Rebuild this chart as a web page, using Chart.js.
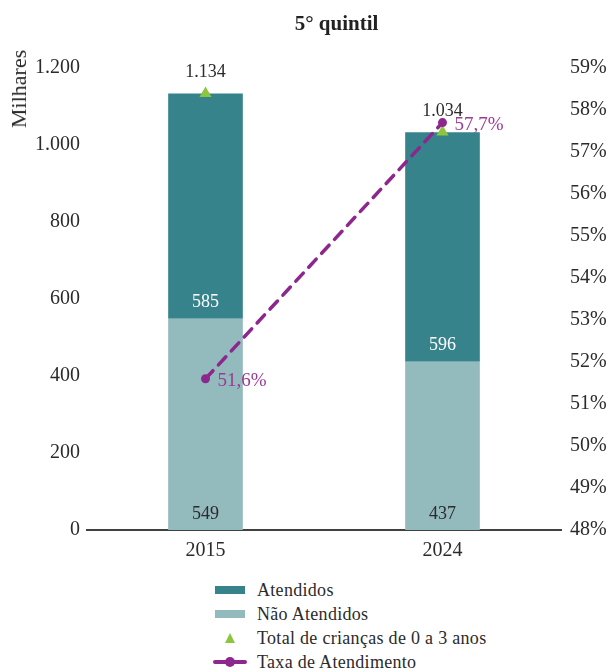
<!DOCTYPE html>
<html>
<head>
<meta charset="utf-8">
<script src="https://cdn.jsdelivr.net/npm/chart.js@4/dist/chart.umd.min.js"></script>
<style>
  html, body { margin: 0; padding: 0; background: #fff; }
  body { width: 607px; height: 672px; position: relative; overflow: hidden; font-family: 'Liberation Serif', serif; color: #2b2b2b; }
  #wrap { position: absolute; left: 0; top: 0; width: 607px; height: 575px; }
  #title { position: absolute; top: 11px; left: 66px; width: 541px; text-align: center; font-weight: bold; font-size: 21px; line-height: 24px; color: #222; }
  #ytitle { position: absolute; left: 19px; top: 89px; transform: translate(-50%, -50%) rotate(-90deg); font-size: 22px; line-height: 24px; white-space: nowrap; color: #2b2b2b; }
  #legend { position: absolute; left: 0; top: 578px; width: 607px; }
  .row { position: absolute; left: 0; height: 24px; width: 607px; font-size: 18px; line-height: 24px; }
  .row .txt { position: absolute; left: 257px; top: 0; white-space: nowrap; letter-spacing: 0.3px; }
  .rect { position: absolute; left: 215px; top: 8px; width: 30px; height: 8px; }
  .tri { position: absolute; left: 225px; top: 7px; width: 0; height: 0; border-left: 5px solid transparent; border-right: 5px solid transparent; border-bottom: 10px solid #8cc63e; }
  .ln { position: absolute; top: 10px; height: 4px; border-radius: 2px; background: #8d278d; }
  .dot { position: absolute; left: 225px; top: 7px; width: 10px; height: 10px; border-radius: 50%; background: #8d278d; }
</style>
</head>
<body>
<div id="wrap"><canvas id="c" width="607" height="575"></canvas></div>
<div id="title">5° quintil</div>
<div id="ytitle">Milhares</div>
<div id="legend"></div>
<script>
// ---- data ----
const categories = ['2015', '2024'];
const atendidos = [585, 596];
const naoAtendidos = [549, 437];
const totalCriancas = [1134, 1034];
const taxaAtendimento = [51.6, 57.7];
const seriesNames = ['Atendidos', 'Não Atendidos', 'Total de crianças de 0 a 3 anos', 'Taxa de Atendimento'];

const COLORS = { at: '#37838b', nao: '#93babd', tri: '#8cc63e', line: '#8d278d', lineText: '#9b3a97', text: '#2b2b2b' };

function fmtThousands(n) { return String(Math.round(n)).replace(/\B(?=(\d{3})+(?!\d))/g, '.'); }
function fmtPct(v) { return v.toFixed(1).replace('.', ',') + '%'; }

Chart.defaults.font.family = "'Liberation Serif', serif";
Chart.defaults.color = COLORS.text;

const labelsPlugin = {
  id: 'valueLabels',
  afterDatasetsDraw(chart) {
    const ctx = chart.ctx;
    ctx.save();
    ctx.textAlign = 'center';
    ctx.textBaseline = 'middle';
    ctx.font = "18px 'Liberation Serif', serif";
    // bar segment labels, anchored at segment base (0 = Não Atendidos, 1 = Atendidos)
    [0, 1].forEach(di => {
      const meta = chart.getDatasetMeta(di);
      meta.data.forEach((el, i) => {
        const v = chart.data.datasets[di].data[i];
        ctx.fillStyle = di === 1 ? '#ffffff' : COLORS.text;
        ctx.fillText(fmtThousands(v), el.x, el.base - 16);
      });
    });
    // totals above triangle
    const tm = chart.getDatasetMeta(2);
    tm.data.forEach((el, i) => {
      ctx.fillStyle = COLORS.text;
      ctx.fillText(fmtThousands(totalCriancas[i]), el.x, el.y - 21);
    });
    // rates to the right of points
    const lm = chart.getDatasetMeta(3);
    ctx.textAlign = 'left';
    ctx.font = "19px 'Liberation Serif', serif";
    lm.data.forEach((el, i) => {
      ctx.fillStyle = COLORS.lineText;
      ctx.fillText(fmtPct(taxaAtendimento[i]), el.x + 12, el.y + 2);
    });
    ctx.restore();
  }
};

new Chart(document.getElementById('c'), {
  data: {
    labels: categories,
    datasets: [
      { type: 'bar', label: seriesNames[1], data: naoAtendidos, backgroundColor: COLORS.nao, stack: 'bars', order: 3,
        barPercentage: 0.315, categoryPercentage: 1, yAxisID: 'y' },
      { type: 'bar', label: seriesNames[0], data: atendidos, backgroundColor: COLORS.at, stack: 'bars', order: 4,
        barPercentage: 0.315, categoryPercentage: 1, yAxisID: 'y' },
      { type: 'line', label: seriesNames[2], data: totalCriancas, showLine: false, stack: 'total', order: 2, yAxisID: 'y',
        pointStyle: 'triangle', pointRadius: 7, pointBackgroundColor: COLORS.tri, pointBorderColor: COLORS.tri, pointBorderWidth: 0 },
      { type: 'line', label: seriesNames[3], data: taxaAtendimento, stack: 'rate', order: 1, yAxisID: 'y1',
        borderColor: COLORS.line, borderWidth: 3.5, borderDash: [11, 8], borderCapStyle: 'round',
        pointStyle: 'circle', pointRadius: 4.5, pointBackgroundColor: COLORS.line, pointBorderColor: COLORS.line, pointBorderWidth: 0 }
    ]
  },
  options: {
    responsive: false,
    animation: false,
    layout: { padding: { top: 68, left: 0, right: 0, bottom: 0 } },
    plugins: { legend: { display: false }, title: { display: false }, tooltip: { enabled: false } },
    scales: {
      x: {
        stacked: true,
        grid: { display: false, drawTicks: false },
        border: { display: true, color: '#404040', width: 2 },
        ticks: { padding: 9, font: { size: 20 }, color: COLORS.text },
        afterFit(s) { s.height = 45; }
      },
      y: {
        stacked: true, position: 'left', min: 0, max: 1200,
        grid: { display: false, drawTicks: false },
        border: { display: false },
        ticks: { stepSize: 200, padding: 7, font: { size: 20 }, color: COLORS.text, callback: v => fmtThousands(v) },
        afterFit(s) { s.width = 87; }
      },
      y1: {
        position: 'right', min: 48, max: 59,
        grid: { display: false, drawTicks: false },
        border: { display: false },
        ticks: { stepSize: 1, padding: 9, font: { size: 20 }, color: COLORS.text, callback: v => v + '%' },
        afterFit(s) { s.width = 46; }
      }
    }
  },
  plugins: [labelsPlugin]
});

// ---- HTML legend ----
const legend = document.getElementById('legend');
const icons = [
  '<div class="rect" style="background:' + COLORS.at + '"></div>',
  '<div class="rect" style="background:' + COLORS.nao + '"></div>',
  '<div class="tri"></div>',
  '<div class="ln" style="left:213px;width:12px"></div><div class="ln" style="left:235px;width:12px"></div><div class="ln" style="left:222px;width:16px"></div><div class="dot"></div>'
];
seriesNames.forEach((name, i) => {
  const r = document.createElement('div');
  r.className = 'row';
  r.style.top = (i * 24) + 'px';
  r.innerHTML = icons[i] + '<span class="txt">' + name + '</span>';
  legend.appendChild(r);
});
</script>
</body>
</html>
